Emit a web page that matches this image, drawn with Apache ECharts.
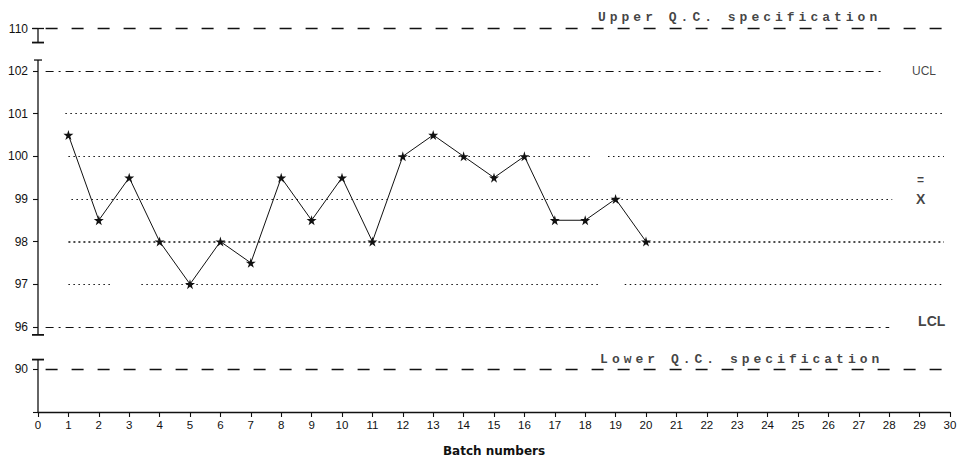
<!DOCTYPE html>
<html><head><meta charset="utf-8">
<script src="https://cdn.jsdelivr.net/npm/echarts@6/dist/echarts.min.js"></script>
<style>
html,body{margin:0;padding:0;background:#fff}
#c{width:962px;height:468px}
#c text[style*="Mono"], #c text[font-family*="Mono"]{letter-spacing:4.0px}
</style>
</head><body><div id="c"></div><script>
// ---- data ----
const batches = [1,2,3,4,5,6,7,8,9,10,11,12,13,14,15,16,17,18,19,20];
const values = [100.5,98.5,99.5,98,97,98,97.5,99.5,98.5,99.5,98,100,100.5,100,99.5,100,98.5,98.5,99,98];
const yTickValues = [90,96,97,98,99,100,101,102,110];
const xTickMax = 30;
const upperSpec = 110, ucl = 102, grandMean = 99, lcl = 96, lowerSpec = 90;
const dottedLevels = [101,100,98,97];
const annotationTexts = ['Upper Q.C. specification','UCL','=','X','LCL','Lower Q.C. specification'];
const xAxisName = 'Batch numbers';

// piecewise-linear (broken) value scale: each labelled tick gets one band
function toPos(v){
  const t = yTickValues;
  for(let i=0;i<t.length-1;i++){
    if(v>=t[i] && v<=t[i+1]) return i + (v-t[i])/(t[i+1]-t[i]);
  }
  return v < t[0] ? -1 : t.length-1;
}

const ink = '#111';
const seg = (x1,x2,v,style)=>[{coord:[x1,toPos(v)],lineStyle:style},{coord:[x2,toPos(v)]}];
const dashStyle = {type:[12,14],width:1.3,color:ink};
const dashDot = {type:[8,5,2,5],width:1.2,color:ink};
const dotted = {type:[1.5,3.5],width:1.1,color:ink};
const dottedBold = {type:[2,3],width:1.7,color:ink};

const star = 'path://M50,0 L61,35 L98,35 L68,57 L79,91 L50,70 L21,91 L32,57 L2,35 L39,35 Z';

const chart = echarts.init(document.getElementById('c'), null, {renderer:'svg'});
chart.setOption({
  animation:false,
  backgroundColor:'#fff',
  grid:{left:38,right:12,top:28.5,bottom:56,outerBoundsMode:'none',containLabel:false},
  xAxis:{
    type:'value',min:0,max:xTickMax,interval:1,
    axisLine:{show:true,onZero:false,lineStyle:{color:ink,width:1.3}},
    axisTick:{show:true,length:5,lineStyle:{color:ink,width:1.1}},
    axisLabel:{color:ink,fontSize:11.5,margin:7,fontFamily:'Liberation Sans'},
    splitLine:{show:false},
    name:xAxisName,nameLocation:'middle',nameGap:33,
    nameTextStyle:{color:ink,fontSize:12,fontWeight:'bold',fontFamily:'DejaVu Sans'}
  },
  yAxis:{
    type:'value',min:-1,max:yTickValues.length-1,interval:1,
    axisLine:{show:false,onZero:false},
    axisTick:{show:true,length:5,lineStyle:{color:ink,width:1.1}},
    axisLabel:{color:ink,fontSize:12,margin:10,fontFamily:'Liberation Sans',
      formatter:v=> (v>=0 && v<yTickValues.length) ? String(yTickValues[v]) : ''},
    splitLine:{show:false}
  },
  series:[
    {
      type:'custom',name:'axisDecor',silent:true,z:5,
      data:[[0,0]],
      renderItem:function(params,api){
        const x = api.coord([0,0])[0];
        const y = p=>api.coord([0,p])[1];
        const L=(x1,y1,x2,y2,w)=>({type:'line',shape:{x1,y1,x2,y2},style:{stroke:ink,lineWidth:w||1.3}});
        const p110=toPos(upperSpec), p102=toPos(ucl), p96=toPos(lcl), p90=toPos(lowerSpec);
        return {type:'group',children:[
          L(x,y(p110),x,y(p110-0.33)),
          L(x-6,y(p110-0.33),x+6,y(p110-0.33),1.8),
          L(x-6,y(p110),x+6,y(p110)),
          L(x,y(p102+0.26),x,y(p96-0.19)),
          L(x-4,y(p102+0.26),x+4,y(p102+0.26)),
          L(x-6,y(p96-0.19),x+6,y(p96-0.19),1.8),
          L(x,y(p90+0.23),x,y(-1)),
          L(x-6,y(p90+0.23),x+6,y(p90+0.23),1.8)
        ]};
      }
    },
    {
      type:'line',name:'values',
      data:batches.map((b,i)=>[b,toPos(values[i])]),
      symbol:star,symbolSize:10,
      itemStyle:{color:ink},
      lineStyle:{color:ink,width:1},
      z:4,
      markLine:{
        silent:true,symbol:'none',label:{show:false},
        data:[
          seg(0.25,29.8,upperSpec,dashStyle),
          seg(0.25,27.86,ucl,dashDot),
          seg(0.9,29.8,dottedLevels[0],dotted),
          seg(1.0,18.15,dottedLevels[1],dotted),
          seg(18.75,29.8,dottedLevels[1],dotted),
          seg(1.1,28.1,grandMean,dotted),
          seg(1.0,29.8,dottedLevels[2],dottedBold),
          seg(1.0,2.4,dottedLevels[3],dotted),
          seg(3.4,18.5,dottedLevels[3],dotted),
          seg(19.3,29.8,dottedLevels[3],dotted),
          seg(0.25,28.0,lcl,dashDot),
          seg(0.25,29.8,lowerSpec,dashStyle)
        ]
      }
    },
    {
      type:'scatter',name:'annotations',silent:true,symbolSize:0,z:6,
      data:[
        {value:[18.42,toPos(upperSpec)],label:{formatter:annotationTexts[0],offset:[0,-11.5],fontFamily:'Liberation Mono',fontSize:13,fontWeight:'bold'}},
        {value:[28.75,toPos(ucl)],label:{formatter:annotationTexts[1],offset:[0,0],fontFamily:'Liberation Sans',fontSize:12}},
        {value:[28.88,toPos(grandMean)],label:{formatter:annotationTexts[2],offset:[1,-19],fontFamily:'Liberation Sans',fontSize:12,fontWeight:'bold'}},
        {value:[28.88,toPos(grandMean)],label:{formatter:annotationTexts[3],offset:[0,0],fontFamily:'Liberation Sans',fontSize:14,fontWeight:'bold'}},
        {value:[28.95,toPos(lcl)],label:{formatter:annotationTexts[4],offset:[0,-6],fontFamily:'Liberation Sans',fontSize:14,fontWeight:'bold'}},
        {value:[18.49,toPos(lowerSpec)],label:{formatter:annotationTexts[5],offset:[0,-10],fontFamily:'Liberation Mono',fontSize:13,fontWeight:'bold'}}
      ],
      label:{show:true,position:'right',distance:0,color:ink}
    }
  ]
});
</script></body></html>
